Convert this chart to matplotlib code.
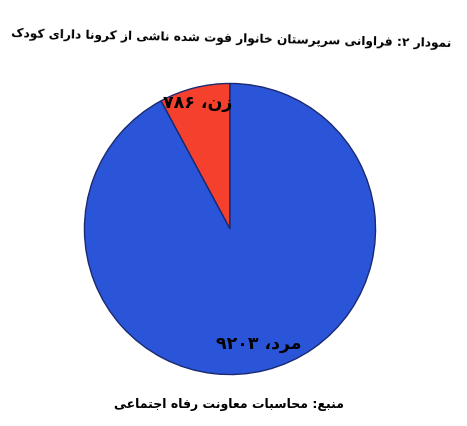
import numpy as np
import matplotlib
matplotlib.use("Agg")
import matplotlib.pyplot as plt

# chart data
title = "نمودار ۲: فراوانی سرپرستان خانوار فوت شده ناشی از کرونا دارای کودک"
source = "منبع: محاسبات معاونت رفاه اجتماعی"
categories = ["زن", "مرد"]
values = [786, 9203]
value_labels = ["۷۸۶", "۹۲۰۳"]
colors = ["#f5402e", "#2a55d8"]

# contextual forms: isolated, final, initial, medial
FORMS = {
    "ا": ("\uFE8D", "\uFE8E"), "آ": ("\uFE81", "\uFE82"),
    "د": ("\uFEA9", "\uFEAA"), "ذ": ("\uFEAB", "\uFEAC"),
    "ر": ("\uFEAD", "\uFEAE"), "ز": ("\uFEAF", "\uFEB0"),
    "ژ": ("\uFB8A", "\uFB8B"), "و": ("\uFEED", "\uFEEE"),
    "ب": ("\uFE8F", "\uFE90", "\uFE91", "\uFE92"),
    "پ": ("\uFB56", "\uFB57", "\uFB58", "\uFB59"),
    "ت": ("\uFE95", "\uFE96", "\uFE97", "\uFE98"),
    "ث": ("\uFE99", "\uFE9A", "\uFE9B", "\uFE9C"),
    "ج": ("\uFE9D", "\uFE9E", "\uFE9F", "\uFEA0"),
    "چ": ("\uFB7A", "\uFB7B", "\uFB7C", "\uFB7D"),
    "ح": ("\uFEA1", "\uFEA2", "\uFEA3", "\uFEA4"),
    "خ": ("\uFEA5", "\uFEA6", "\uFEA7", "\uFEA8"),
    "س": ("\uFEB1", "\uFEB2", "\uFEB3", "\uFEB4"),
    "ش": ("\uFEB5", "\uFEB6", "\uFEB7", "\uFEB8"),
    "ع": ("\uFEC9", "\uFECA", "\uFECB", "\uFECC"),
    "ف": ("\uFED1", "\uFED2", "\uFED3", "\uFED4"),
    "ق": ("\uFED5", "\uFED6", "\uFED7", "\uFED8"),
    "ک": ("\uFB8E", "\uFB8F", "\uFB90", "\uFB91"),
    "گ": ("\uFB92", "\uFB93", "\uFB94", "\uFB95"),
    "ل": ("\uFEDD", "\uFEDE", "\uFEDF", "\uFEE0"),
    "م": ("\uFEE1", "\uFEE2", "\uFEE3", "\uFEE4"),
    "ن": ("\uFEE5", "\uFEE6", "\uFEE7", "\uFEE8"),
    "ه": ("\uFEE9", "\uFEEA", "\uFEEB", "\uFEEC"),
    "ی": ("\uFBFC", "\uFBFD", "\uFBFE", "\uFBFF"),
}


def shape(text):
    """Join Persian letters and put the string in visual (LTR) order."""
    out = []
    for i, ch in enumerate(text):
        f = FORMS.get(ch)
        if f is None:
            out.append(ch)
            continue
        prev = text[i - 1] if i > 0 else ""
        nxt = text[i + 1] if i + 1 < len(text) else ""
        join_prev = prev in FORMS and len(FORMS[prev]) == 4
        join_next = len(f) == 4 and nxt in FORMS
        if join_prev and join_next:
            out.append(f[3])
        elif join_prev:
            out.append(f[1])
        elif join_next:
            out.append(f[2])
        else:
            out.append(f[0])
    vis = "".join(reversed(out))
    # keep digit runs left-to-right
    res, run = [], []
    for ch in vis:
        if ch.isdigit():
            run.append(ch)
        else:
            res.extend(reversed(run))
            run = []
            res.append(ch)
    res.extend(reversed(run))
    return "".join(res)


plt.rcParams['font.family'] = ['DejaVu Sans']

fig = plt.figure(figsize=(4.67, 4.27), dpi=100)
fig.patch.set_facecolor("white")

ax = fig.add_axes([0.1777, 0.1171, 0.6296, 0.6885])
wedges, _ = ax.pie(values, colors=colors, startangle=90, counterclock=True,
                   wedgeprops=dict(edgecolor="#1b2a70", linewidth=1.0))
ax.set_xlim(-1.01, 1.01)
ax.set_ylim(-1.01, 1.01)
ax.set_aspect("equal")

label_dist = [0.9, 0.81]
for w, cat, num, d in zip(wedges, categories, value_labels, label_dist):
    mid = np.deg2rad((w.theta1 + w.theta2) / 2)
    ax.text(d * np.cos(mid), d * np.sin(mid), shape(cat + "، " + num),
            ha="center", va="center", fontsize=12.5, fontweight="bold",
            color="black")

fig.text(0.495, 0.91, shape(title), ha="center", va="center",
         fontsize=8.7, fontweight="bold", rotation=-1.3)
fig.text(0.49, 0.052, shape(source), ha="center", va="center",
         fontsize=9, fontweight="bold")

fig.savefig("out.png", dpi=100, facecolor="white")
